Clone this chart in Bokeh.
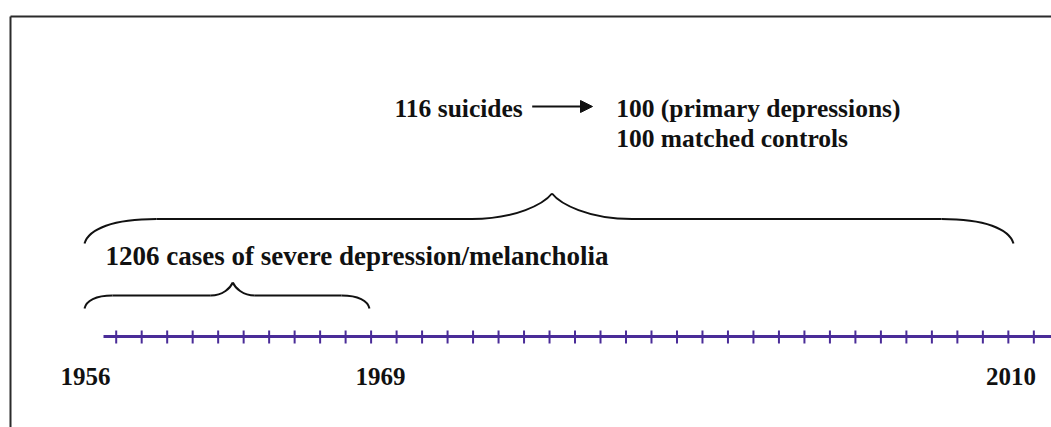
import numpy as np
from bokeh.plotting import figure
from bokeh.models import Range1d, Arrow, NormalHead
from bokeh.core.properties import value
from bokeh.embed import file_html
from bokeh.resources import INLINE

# ---------------- data ----------------
year_labels = ["1956", "1969", "2010"]
cohort_cases = 1206
suicides = 116
primary_depressions = 100
matched_controls = 100
n_timeline_ticks = 37

# ---------------- layout (page pixel coordinates) ----------------
W, H = 1051, 427
FONT = value("Liberation Serif")
INK = "#111111"
PURPLE = "#4a2c98"

year_label_x = [85, 380, 1010.5]
year_label_y = 376

p = figure(width=W, height=H, output_backend="svg", toolbar_location=None,
           x_range=Range1d(0, W), y_range=Range1d(H, 0),
           x_axis_type=None, y_axis_type=None, min_border=0)
p.outline_line_color = None
p.xgrid.visible = False
p.ygrid.visible = False
p.background_fill_color = "white"
p.border_fill_color = "white"

# frame (top and left edges of the slide box)
p.segment(x0=[10, 10], y0=[16, 16], x1=[W + 5, 10], y1=[16, H + 5],
          line_color="#2b2b2b", line_width=2)

# timeline
p.segment(x0=[103], y0=[336], x1=[W + 5], y1=[336],
          line_color=PURPLE, line_width=3)
tick_x = 115.7 + 25.49 * np.arange(n_timeline_ticks)
p.segment(x0=tick_x, y0=np.full(n_timeline_ticks, 330), x1=tick_x,
          y1=np.full(n_timeline_ticks, 343), line_color=PURPLE, line_width=2)

# year labels
p.text(x=year_label_x, y=[year_label_y] * len(year_labels), text=year_labels,
       text_font=FONT, text_font_style="bold", text_font_size="25px",
       text_align="center", text_baseline="alphabetic", text_color=INK)


# braces
def brace(x0, x1, xm, y_tip, y_h, y_c, end_w, mid_w):
    bx0, by0, bx1, by1, cx0, cy0, cx1, cy1 = ([] for _ in range(8))
    d_end = y_tip - y_h
    d_mid = y_h - y_c
    for s, xe in ((1, x0), (-1, x1)):
        # end curl
        bx0.append(xe); by0.append(y_tip)
        cx0.append(xe + s * 0.06 * end_w); cy0.append(y_tip - 0.6 * d_end)
        cx1.append(xe + s * 0.4 * end_w); cy1.append(y_h)
        bx1.append(xe + s * end_w); by1.append(y_h)
        # middle cusp
        bx0.append(xm - s * mid_w); by0.append(y_h)
        cx0.append(xm - s * 0.45 * mid_w); cy0.append(y_h)
        cx1.append(xm - s * 0.1 * mid_w); cy1.append(y_c + 0.4 * d_mid)
        bx1.append(xm); by1.append(y_c)
    p.bezier(x0=bx0, y0=by0, x1=bx1, y1=by1, cx0=cx0, cy0=cy0, cx1=cx1, cy1=cy1,
             line_color=INK, line_width=2)
    p.segment(x0=[x0 + end_w, xm + mid_w], y0=[y_h, y_h],
              x1=[xm - mid_w, x1 - end_w], y1=[y_h, y_h],
              line_color=INK, line_width=2)


brace(84, 1013, 551.5, 243, 218.5, 193, 72, 80)
brace(84, 369, 232.3, 308, 295, 282, 28, 22)

# texts
p.text(x=[105], y=[255], text=[f"{cohort_cases} cases of severe depression/melancholia"],
       text_font=FONT, text_font_style="bold", text_font_size="27px",
       text_baseline="alphabetic", text_color=INK)
p.text(x=[394], y=[108], text=[f"{suicides} suicides"],
       text_font=FONT, text_font_style="bold", text_font_size="25.5px",
       text_baseline="alphabetic", text_color=INK)
p.text(x=[615.7, 615.7], y=[108, 137.5],
       text=[f"{primary_depressions} (primary depressions)",
             f"{matched_controls} matched controls"],
       text_font=FONT, text_font_style="bold", text_font_size="25.5px",
       text_baseline="alphabetic", text_color=INK)

# arrow
p.add_layout(Arrow(end=NormalHead(size=12, fill_color=INK, line_color=INK, line_width=1),
                   x_start=531.7, y_start=106, x_end=592, y_end=106,
                   line_color=INK, line_width=2))

open("out.html", "w").write(file_html(p, INLINE))
